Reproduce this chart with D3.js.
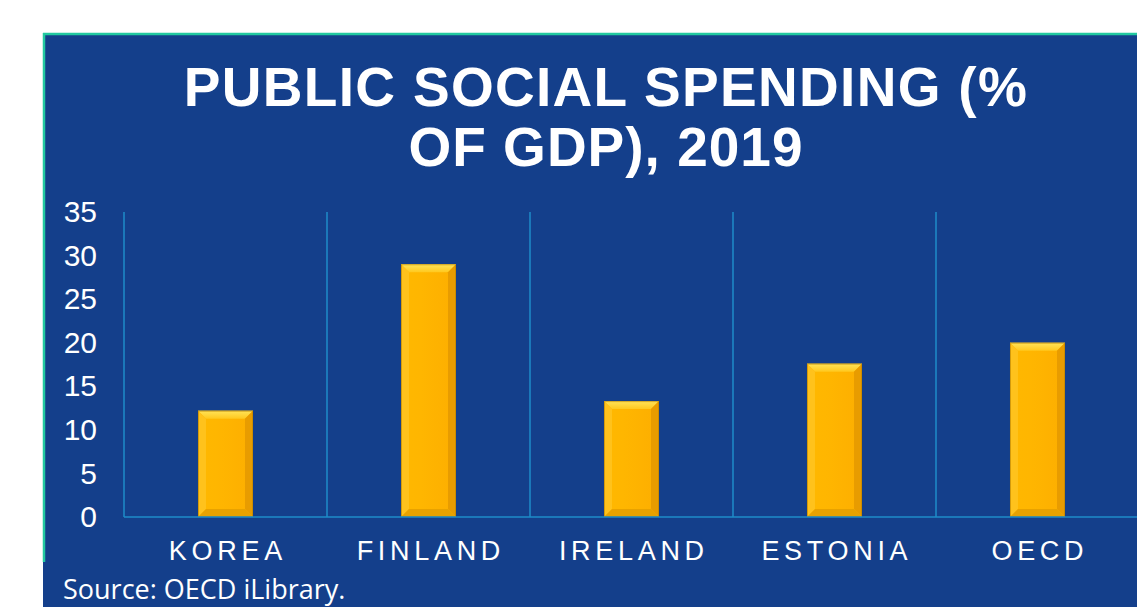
<!DOCTYPE html>
<html>
<head>
<meta charset="utf-8">
<script src="https://cdn.jsdelivr.net/npm/d3@7"></script>
<style>
  html, body { margin: 0; padding: 0; background: #ffffff; }
  svg { display: block; }
</style>
</head>
<body>
<svg id="chart" width="1137" height="607"></svg>
<script>
// Public social spending as a share of GDP, 2019
const categories = ["KOREA", "FINLAND", "IRELAND", "ESTONIA", "OECD"];
const spending = [12.2, 29.0, 13.3, 17.6, 20.0];
const yTicks = [0, 5, 10, 15, 20, 25, 30, 35];
const titleLines = ["PUBLIC SOCIAL SPENDING (%", "OF GDP), 2019"];
const sourceNote = "Source: OECD iLibrary.";

const W = 1137, H = 607;
const svg = d3.select("#chart");

const panelBlue = "#143f8b";
const gridBlue = "#1e8cc8";
const edgeGreen = "#22c9a0";

// Panel behind the chart, with its green top and left edges
svg.append("rect").attr("x", 43).attr("y", 33).attr("width", W - 43).attr("height", H - 33)
  .attr("fill", panelBlue);
svg.append("line").attr("x1", 43).attr("x2", W).attr("y1", 34).attr("y2", 34)
  .attr("stroke", edgeGreen).attr("stroke-width", 2.5);
svg.append("line").attr("x1", 44).attr("x2", 44).attr("y1", 33).attr("y2", 562)
  .attr("stroke", edgeGreen).attr("stroke-width", 2.5);

// Title
svg.append("text")
  .attr("x", 606).attr("text-anchor", "middle")
  .attr("font-family", "Liberation Sans, Arial, sans-serif")
  .attr("font-weight", "bold").attr("font-size", 55)
  .attr("fill", "#ffffff")
  .selectAll("tspan").data(titleLines).join("tspan")
  .attr("x", 606).attr("y", (d, i) => 106 + i * 60)
  .attr("letter-spacing", (d, i) => i === 0 ? 1.3 : 1)
  .text(d => d);

// Scales
const x = d3.scaleBand().domain(categories).range([124, 1139]).paddingInner(0).paddingOuter(0);
const y = d3.scaleLinear().domain([0, 35]).range([517, 212]);
const barW = x.bandwidth() * 0.271;

// Category separators
svg.append("g").selectAll("line").data(categories).join("line")
  .attr("x1", d => x(d)).attr("x2", d => x(d))
  .attr("y1", y(35)).attr("y2", y(0))
  .attr("stroke", gridBlue).attr("stroke-width", 1.5);

// Y axis labels
const yAxis = svg.append("g").attr("transform", `translate(${x.range()[0]},0)`)
  .call(d3.axisLeft(y).tickValues(yTicks).tickSize(0).tickPadding(27));
yAxis.select(".domain").remove();
yAxis.selectAll("text")
  .attr("fill", "#ffffff")
  .attr("font-family", "Liberation Sans, Arial, sans-serif")
  .attr("font-size", 30);

// Bevelled bars
const defs = svg.append("defs");
const face = defs.append("linearGradient").attr("id", "barFace").attr("x1", "0").attr("x2", "1").attr("y1", "0").attr("y2", "0");
face.append("stop").attr("offset", "0%").attr("stop-color", "#ffb800");
face.append("stop").attr("offset", "35%").attr("stop-color", "#ffb600");
face.append("stop").attr("offset", "100%").attr("stop-color", "#fdae00");
const topG = defs.append("linearGradient").attr("id", "barTop").attr("x1", "0").attr("x2", "0").attr("y1", "0").attr("y2", "1");
topG.append("stop").attr("offset", "0%").attr("stop-color", "#ffe45a");
topG.append("stop").attr("offset", "100%").attr("stop-color", "#ffc81e");

const bev = 8;
const bars = svg.append("g").selectAll("g").data(categories).join("g");
const geom = (d, i) => {
  const x0 = x(d) + (x.bandwidth() - barW) / 2;
  return { x0, x1: x0 + barW, y0: y(spending[i]), y1: y(0) };
};
const pts = arr => arr.map(p => p.join(",")).join(" ");

bars.append("rect")
  .attr("x", (d, i) => geom(d, i).x0).attr("y", (d, i) => geom(d, i).y0)
  .attr("width", barW).attr("height", (d, i) => y(0) - y(spending[i]))
  .attr("fill", "url(#barFace)");
// top facet
bars.append("polygon").attr("fill", "url(#barTop)").attr("points", (d, i) => {
  const g = geom(d, i);
  return pts([[g.x0, g.y0], [g.x1, g.y0], [g.x1 - bev, g.y0 + bev], [g.x0 + bev, g.y0 + bev]]);
});
// left facet
bars.append("polygon").attr("fill", "#ffc21c").attr("points", (d, i) => {
  const g = geom(d, i);
  return pts([[g.x0, g.y0], [g.x0 + bev, g.y0 + bev], [g.x0 + bev, g.y1 - bev], [g.x0, g.y1]]);
});
// right facet
bars.append("polygon").attr("fill", "#e89c00").attr("points", (d, i) => {
  const g = geom(d, i);
  return pts([[g.x1, g.y0], [g.x1 - bev, g.y0 + bev], [g.x1 - bev, g.y1 - bev], [g.x1, g.y1]]);
});
// bottom facet
bars.append("polygon").attr("fill", "#e8a200").attr("points", (d, i) => {
  const g = geom(d, i);
  return pts([[g.x0, g.y1], [g.x0 + bev, g.y1 - bev], [g.x1 - bev, g.y1 - bev], [g.x1, g.y1]]);
});
// thin darker rim
bars.append("rect")
  .attr("x", (d, i) => geom(d, i).x0 + 0.5).attr("y", (d, i) => geom(d, i).y0 + 0.5)
  .attr("width", barW - 1).attr("height", (d, i) => y(0) - y(spending[i]) - 1)
  .attr("fill", "none").attr("stroke", "#b88000").attr("stroke-opacity", 0.6).attr("stroke-width", 1);

// Baseline
svg.append("line").attr("x1", x.range()[0]).attr("x2", W).attr("y1", y(0)).attr("y2", y(0))
  .attr("stroke", gridBlue).attr("stroke-width", 1.5);

// Category labels
const xAxis = svg.append("g").attr("transform", `translate(0,${y(0)})`)
  .call(d3.axisBottom(x).tickSize(0).tickPadding(0));
xAxis.select(".domain").remove();
xAxis.selectAll("text")
  .attr("dy", null).attr("y", 43)
  .attr("fill", "#ffffff")
  .attr("font-family", "Liberation Sans, Arial, sans-serif")
  .attr("font-size", 27)
  .attr("letter-spacing", 4.7)
  .attr("dx", 2.35);

// Source note
svg.append("text").attr("x", 63).attr("y", 599)
  .attr("fill", "#ffffff")
  .attr("font-family", "Open Sans, Noto Sans, sans-serif")
  .attr("font-size", 27)
  .text(sourceNote);
</script>
</body>
</html>
